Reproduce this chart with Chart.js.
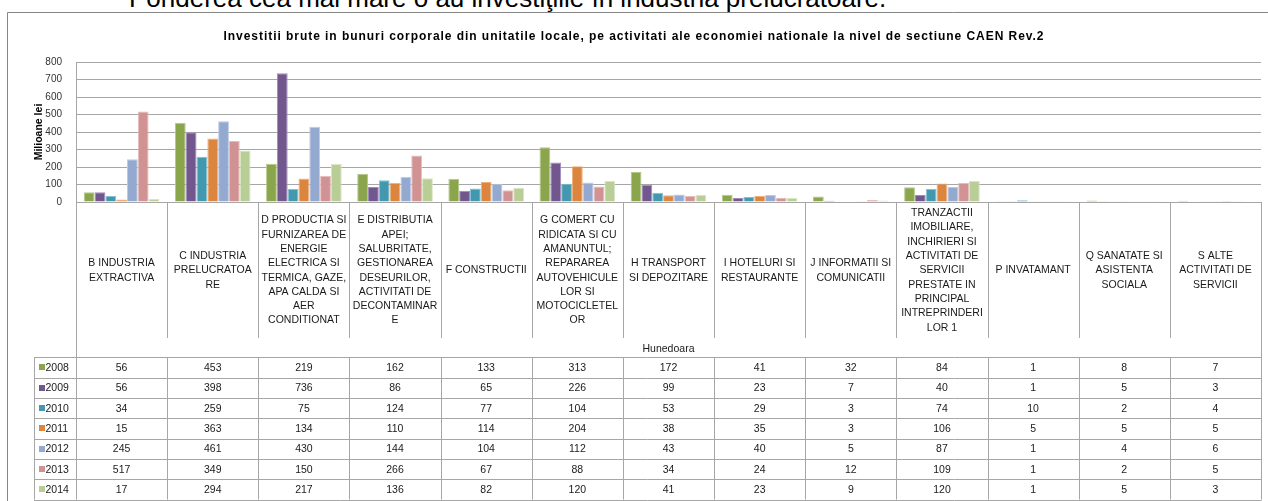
<!DOCTYPE html>
<html>
<head>
<meta charset="utf-8">
<script src="https://cdn.jsdelivr.net/npm/chart.js@4"></script>
<style>
  html, body { margin: 0; padding: 0; background: #fff; overflow: hidden; }
  #wrap { position: relative; width: 1268px; height: 501px; }
  #lead { position: absolute; left: 129px; top: -17px; font: 26px "Liberation Sans", Arial, sans-serif; color: #000; white-space: nowrap; }
  #c { position: absolute; left: 0; top: 0; }
</style>
</head>
<body>
<div id="wrap">
  <div id="lead">Ponderea cea mai mare o au investiţiile în industria prelucrătoare.</div>
  <canvas id="c" width="1268" height="501"></canvas>
</div>
<script>
// categorii CAEN, deja impartite pe randuri ca in tabel
const categories = [
  ['B INDUSTRIA', 'EXTRACTIVA'],
  ['C INDUSTRIA', 'PRELUCRATOA', 'RE'],
  ['D PRODUCTIA SI', 'FURNIZAREA DE', 'ENERGIE', 'ELECTRICA SI', 'TERMICA, GAZE,', 'APA CALDA SI', 'AER', 'CONDITIONAT'],
  ['E DISTRIBUTIA', 'APEI;', 'SALUBRITATE,', 'GESTIONAREA', 'DESEURILOR,', 'ACTIVITATI DE', 'DECONTAMINAR', 'E'],
  ['F CONSTRUCTII'],
  ['G COMERT CU', 'RIDICATA SI CU', 'AMANUNTUL;', 'REPARAREA', 'AUTOVEHICULE', 'LOR SI', 'MOTOCICLETEL', 'OR'],
  ['H TRANSPORT', 'SI DEPOZITARE'],
  ['I HOTELURI SI', 'RESTAURANTE'],
  ['J INFORMATII SI', 'COMUNICATII'],
  ['TRANZACTII', 'IMOBILIARE,', 'INCHIRIERI SI', 'ACTIVITATI DE', 'SERVICII', 'PRESTATE IN', 'PRINCIPAL', 'INTREPRINDERI', 'LOR 1'],
  ['P INVATAMANT'],
  ['Q SANATATE SI', 'ASISTENTA', 'SOCIALA'],
  ['S ALTE', 'ACTIVITATI DE', 'SERVICII']
];

const years = ['2008', '2009', '2010', '2011', '2012', '2013', '2014'];

const v2008 = [56, 453, 219, 162, 133, 313, 172, 41, 32, 84, 1, 8, 7];
const v2009 = [56, 398, 736, 86, 65, 226, 99, 23, 7, 40, 1, 5, 3];
const v2010 = [34, 259, 75, 124, 77, 104, 53, 29, 3, 74, 10, 2, 4];
const v2011 = [15, 363, 134, 110, 114, 204, 38, 35, 3, 106, 5, 5, 5];
const v2012 = [245, 461, 430, 144, 104, 112, 43, 40, 5, 87, 1, 4, 6];
const v2013 = [517, 349, 150, 266, 67, 88, 34, 24, 12, 109, 1, 2, 5];
const v2014 = [17, 294, 217, 136, 82, 120, 41, 23, 9, 120, 1, 5, 3];

const yTicks = [0, 100, 200, 300, 400, 500, 600, 700, 800];

const colors = ['#8aa54c', '#72578f', '#4198af', '#dc853e', '#93a9d0', '#d09292', '#b9cd97'];
const borders = ['#b3c98a', '#a08cba', '#86c1d1', '#efb07c', '#bccbe6', '#e6bcbc', '#d9e6c2'];

const series = [v2008, v2009, v2010, v2011, v2012, v2013, v2014];
const FONT = '"Liberation Sans", Arial, sans-serif';
const LINE = '#a6a6a6';

const region = 'Hunedoara';
const labelTop = 202, labelBottom = 338, tableTop = 357.3, rowH = 20.33, keyLeft = 34;

// rama + eticheta + tabel cu date, desenate pe baza scalei x
const tablePlugin = {
  id: 'dataTable',
  beforeDraw(chart) {
    const ctx = chart.ctx;
    ctx.save();
    ctx.strokeStyle = '#868686';
    ctx.lineWidth = 1;
    ctx.beginPath();
    ctx.moveTo(7.5, 520);
    ctx.lineTo(7.5, 12.5);
    ctx.lineTo(1280, 12.5);
    ctx.stroke();
    ctx.restore();
  },
  afterDraw(chart) {
    const ctx = chart.ctx;
    const xs = chart.scales.x;
    const n = categories.length;
    const edges = [xs.left];
    for (let i = 1; i < n; i++) {
      edges.push((xs.getPixelForValue(i - 1) + xs.getPixelForValue(i)) / 2);
    }
    edges.push(xs.right);
    const px = v => Math.round(v) + 0.5;
    const tableBottom = tableTop + rowH * years.length;

    ctx.save();
    ctx.strokeStyle = LINE;
    ctx.lineWidth = 1;
    ctx.beginPath();
    edges.forEach((e, i) => {
      const outer = i === 0 || i === edges.length - 1;
      ctx.moveTo(px(e), labelTop);
      ctx.lineTo(px(e), outer ? tableBottom : labelBottom);
      if (!outer) {
        ctx.moveTo(px(e), tableTop);
        ctx.lineTo(px(e), tableBottom);
      }
    });
    ctx.moveTo(px(keyLeft), tableTop);
    ctx.lineTo(px(keyLeft), tableBottom);
    for (let r = 0; r <= years.length; r++) {
      const y = px(tableTop + r * rowH);
      ctx.moveTo(keyLeft, y);
      ctx.lineTo(edges[n] + 0.5, y);
    }
    ctx.stroke();

    // etichete categorii
    ctx.fillStyle = '#1a1a1a';
    ctx.font = '10.5px ' + FONT;
    ctx.textAlign = 'center';
    ctx.textBaseline = 'middle';
    const lh = 14.3, mid = 270.5;
    categories.forEach((lines, i) => {
      const cx = xs.getPixelForValue(i);
      const y0 = mid - (lines.length - 1) * lh / 2;
      lines.forEach((t, k) => ctx.fillText(t, cx, y0 + k * lh));
    });

    ctx.fillText(region, (edges[0] + edges[n]) / 2, 349);

    // randurile tabelului
    ctx.font = '10.5px ' + FONT;
    years.forEach((yr, r) => {
      const cy = tableTop + rowH * (r + 0.5);
      ctx.fillStyle = colors[r];
      ctx.fillRect(39, Math.round(cy) - 3, 6, 6);
      ctx.fillStyle = '#1a1a1a';
      ctx.textAlign = 'left';
      ctx.fillText(yr, 45.5, cy + 0.5);
      ctx.textAlign = 'center';
      series[r].forEach((v, i) => ctx.fillText(String(v), xs.getPixelForValue(i), cy + 0.5));
    });
    ctx.restore();
  }
};

new Chart(document.getElementById('c'), {
  type: 'bar',
  data: {
    labels: categories,
    datasets: years.map((yr, i) => ({
      label: yr,
      data: series[i],
      backgroundColor: colors[i],
      borderColor: borders[i],
      borderWidth: 1,
      categoryPercentage: 0.83,
      barPercentage: 1
    }))
  },
  options: {
    responsive: false,
    animation: false,
    layout: { padding: { left: 0, top: 62, right: 7, bottom: 299 } },
    plugins: {
      legend: { display: false },
      tooltip: { enabled: false },
      title: {
        display: false
      }
    },
    scales: {
      x: { display: false, offset: true },
      y: {
        min: 0,
        max: 800,
        afterBuildTicks: s => { s.ticks = yTicks.map(v => ({ value: v })); },
        afterFit: s => { s.width = 76; },
        ticks: { color: '#333', font: { size: 10, family: FONT }, padding: 14 },
        grid: { color: LINE, drawTicks: false },
        border: { color: LINE },
        title: {
          display: true,
          text: 'Milioane lei',
          color: '#000',
          font: { size: 10.5, weight: 'bold', family: FONT },
          padding: { top: 33, bottom: 0 }
        }
      }
    }
  },
  plugins: [tablePlugin, {
    id: 'chartTitle',
    afterDraw(chart) {
      const ctx = chart.ctx;
      ctx.save();
      ctx.font = 'bold 12px ' + FONT;
      ctx.letterSpacing = '0.95px';
      ctx.fillStyle = '#000';
      ctx.textAlign = 'center';
      ctx.textBaseline = 'middle';
      ctx.fillText('Investitii brute in bunuri corporale din unitatile locale, pe activitati ale economiei nationale la nivel de sectiune CAEN Rev.2', 634, 36.5);
      ctx.restore();
    }
  }]
});
</script>
</body>
</html>
